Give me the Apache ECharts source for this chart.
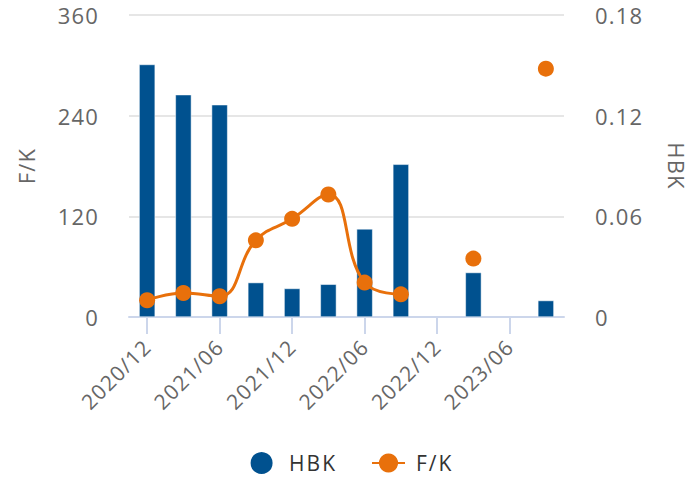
<!DOCTYPE html>
<html>
<head>
    <meta charset="utf-8">
    <title>HBK - F/K</title>
    <script src="https://cdn.jsdelivr.net/npm/echarts@6/dist/echarts.min.js"></script>
    <style>
        html, body { margin: 0; padding: 0; background: #fff; }
        #chart { width: 696px; height: 481px; }
        /* the labels in the original are a little spaced out */
        #chart text { letter-spacing: 1.2px; }
        #chart text[fill="#333333"], #chart text[fill="#333"] { letter-spacing: 2px; }
    </style>
</head>
<body>
    <div id="chart"></div>
    <script>
        // quarters on the x axis
        var quarters = ['2020/12', '2021/03', '2021/06', '2021/09', '2021/12', '2022/03',
                        '2022/06', '2022/09', '2022/12', '2023/03', '2023/06', '2023/09'];
        // HBK (bars, right axis)
        var hbk = [0.1505, 0.1325, 0.1265, 0.0205, 0.017, 0.0195, 0.0525, 0.091, null, 0.0265, null, 0.0098];
        // F/K (line, left axis)
        var fk = [20, 28.6, 24.7, 91.4, 117, 146, 41, 27, null, 69.6, null, 296];
        var leftTicks = [0, 360, 120];
        var rightTicks = [0, 0.18, 0.06];

        var textColor = '#666666';
        var font = 'Open Sans';

        var myChart = echarts.init(document.getElementById('chart'), null, { renderer: 'svg' });
        var option = {
            animation: false,
            textStyle: { fontFamily: font },
            grid: { left: 129, right: 128, top: 15, bottom: 164 },
            legend: {
                bottom: 0,
                left: 'center',
                itemWidth: 33,
                itemHeight: 24,
                itemGap: 40,
                textStyle: { color: '#333333', fontSize: 21, fontFamily: font, padding: [0, 0, 0, 6] },
                data: [{ name: 'HBK', icon: 'circle' }, { name: 'F/K' }]
            },
            xAxis: {
                type: 'category',
                data: quarters,
                axisLine: { lineStyle: { color: '#ccd6eb', width: 2 } },
                axisTick: { show: true, alignWithLabel: true, interval: 1, length: 17, lineStyle: { color: '#ccd6eb', width: 2 } },
                axisLabel: { interval: 1, rotate: 45, margin: 26, color: textColor, fontSize: 21, fontFamily: font }
            },
            yAxis: [{
                type: 'value',
                name: 'F/K',
                nameLocation: 'middle',
                nameRotate: 90,
                nameGap: 92,
                nameTextStyle: { color: textColor, fontSize: 22, fontFamily: font },
                min: leftTicks[0], max: leftTicks[1], interval: leftTicks[2],
                axisLabel: { margin: 30, color: textColor, fontSize: 22, fontFamily: font },
                splitLine: { lineStyle: { color: '#e6e6e6', width: 2 } }
            }, {
                type: 'value',
                name: 'HBK',
                nameLocation: 'middle',
                nameRotate: -90,
                nameGap: 102,
                nameTextStyle: { color: textColor, fontSize: 22, fontFamily: font },
                min: rightTicks[0], max: rightTicks[1], interval: rightTicks[2],
                axisLabel: { margin: 31, color: textColor, fontSize: 22, fontFamily: font },
                splitLine: { show: false }
            }],
            series: [{
                name: 'HBK',
                type: 'bar',
                yAxisIndex: 1,
                barWidth: 16,
                itemStyle: { color: '#00518f', borderColor: '#ffffff', borderWidth: 0.5 },
                data: hbk
            }, {
                name: 'F/K',
                type: 'line',
                yAxisIndex: 0,
                smooth: 0.45,
                connectNulls: false,
                symbol: 'circle',
                symbolSize: 16,
                showAllSymbol: true,
                lineStyle: { color: '#e8700b', width: 3 },
                itemStyle: { color: '#e8700b' },
                data: fk
            }]
        };
        myChart.setOption(option);
    </script>
</body>
</html>
